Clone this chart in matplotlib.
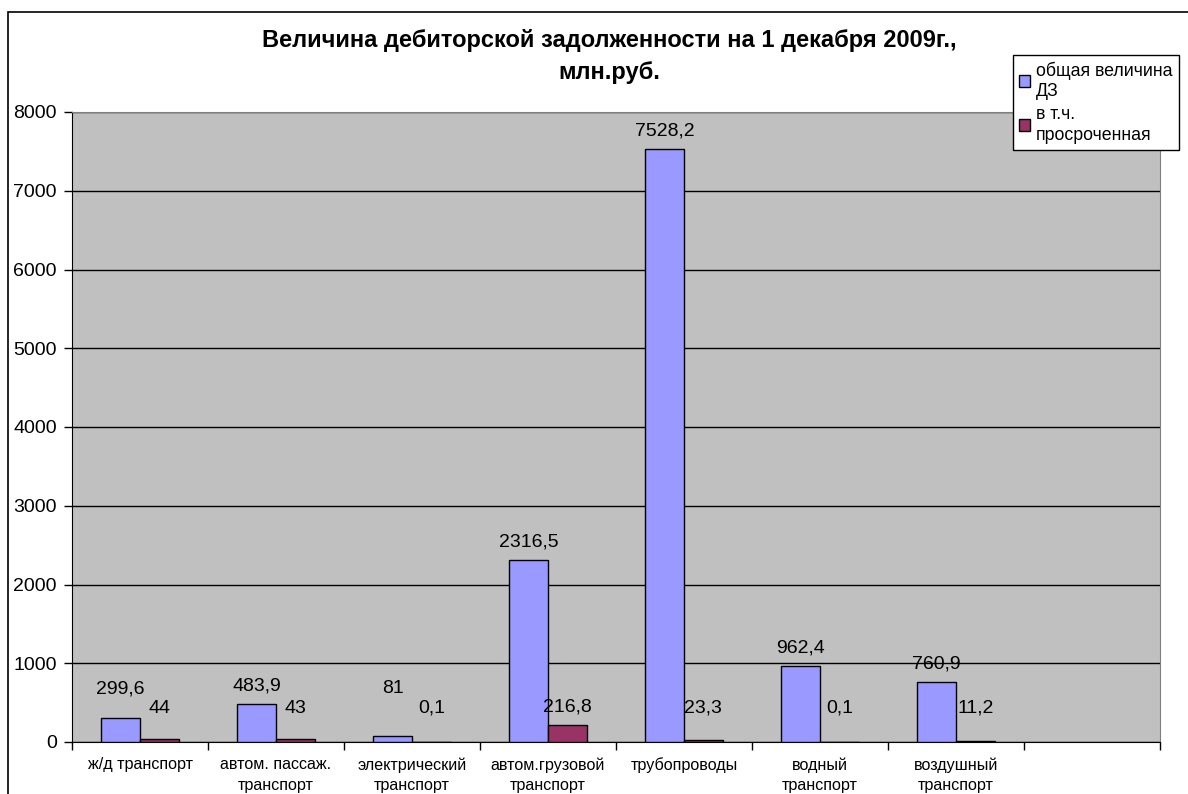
import numpy as np
import matplotlib
matplotlib.use("Agg")
import matplotlib.pyplot as plt
from matplotlib.patches import Rectangle

plt.rcParams["font.family"] = ["Liberation Sans", "DejaVu Sans"]

categories = ["ж/д транспорт", "автом. пассаж.\nтранспорт", "электрический\nтранспорт",
              "автом.грузовой\nтранспорт", "трубопроводы", "водный\nтранспорт",
              "воздушный\nтранспорт", ""]
total_dz = [299.6, 483.9, 81, 2316.5, 7528.2, 962.4, 760.9]
overdue_dz = [44, 43, 0.1, 216.8, 23.3, 0.1, 11.2]
series_names = ["общая величина\nДЗ", "в т.ч.\nпросроченная"]
title = "Величина дебиторской задолженности на 1 декабря 2009г.,\nмлн.руб."

def fmt(v):
    s = ("%.1f" % v).rstrip("0").rstrip(".")
    return s.replace(".", ",")

fig = plt.figure(figsize=(11.88, 7.94), dpi=100)
ax = fig.add_axes([72/1188, 1-742/794, (1160-72)/1188, (742-112)/794])
ax.set_facecolor("#C0C0C0")

# outer chart border (only left/top visible in the crop)
fig.patches.append(Rectangle((8/1188, -0.1), 1.2, 1-12/794+0.1, transform=fig.transFigure,
                             fill=False, edgecolor="black", linewidth=1.2, zorder=0))

n = len(total_dz)
x = np.arange(n)
w = 1/3.5
b1 = ax.bar(x - w/2, total_dz, w, color="#9999FF", edgecolor="black", linewidth=1, zorder=3,
            label=series_names[0])
b2 = ax.bar(x + w/2, overdue_dz, w, color="#993366", edgecolor="black", linewidth=1, zorder=3,
            label=series_names[1])

for xi, v in zip(x, total_dz):
    ax.annotate(fmt(v), (xi - w/2, max(v, 450)), xytext=(0, 13), textcoords="offset points",
                ha="center", va="center", fontsize=14, zorder=4)
for xi, v in zip(x, overdue_dz):
    ax.annotate(fmt(v), (xi + w/2, max(v, 200)), xytext=(0, 13), textcoords="offset points",
                ha="center", va="center", fontsize=14, zorder=4)

ax.set_xlim(-0.5, len(categories) - 0.5)
ax.set_ylim(0, 8000)
ax.set_yticks(np.arange(0, 8001, 1000))
ax.yaxis.grid(True, color="black", linewidth=1, zorder=1)
ax.set_axisbelow(True)
ax.tick_params(axis="y", labelsize=14, length=6, width=1, direction="out", pad=5)

ax.set_xticks(np.arange(len(categories)))
ax.set_xticklabels(categories, fontsize=11.6, linespacing=1.45)
ax.set_xticks(np.arange(len(categories) + 1) - 0.5, minor=True)
ax.tick_params(axis="x", which="major", length=0, pad=11)
ax.tick_params(axis="x", which="minor", length=6, width=1, direction="out")

for s in ["top", "right"]:
    ax.spines[s].set_color("#808080")
ax.spines["left"].set_color("black")
ax.spines["bottom"].set_color("black")

fig.text(0.513, 1-56/794, title, ha="center", va="center", fontsize=17, fontweight="bold",
         linespacing=1.5)

leg = fig.legend(handles=[b1, b2], loc="upper left", bbox_to_anchor=(1013/1188, 1-55/794),
                 fontsize=12.8, frameon=True, fancybox=False, framealpha=1, borderpad=0.35,
                 handlelength=0.6, handleheight=0.6, handletextpad=0.35, labelspacing=0.3,
                 borderaxespad=0)
leg.get_frame().set_edgecolor("black")
leg.get_frame().set_linewidth(1)
for t in leg.get_texts():
    t.set_linespacing(1.3)

fig.savefig("out.png", dpi=100)
